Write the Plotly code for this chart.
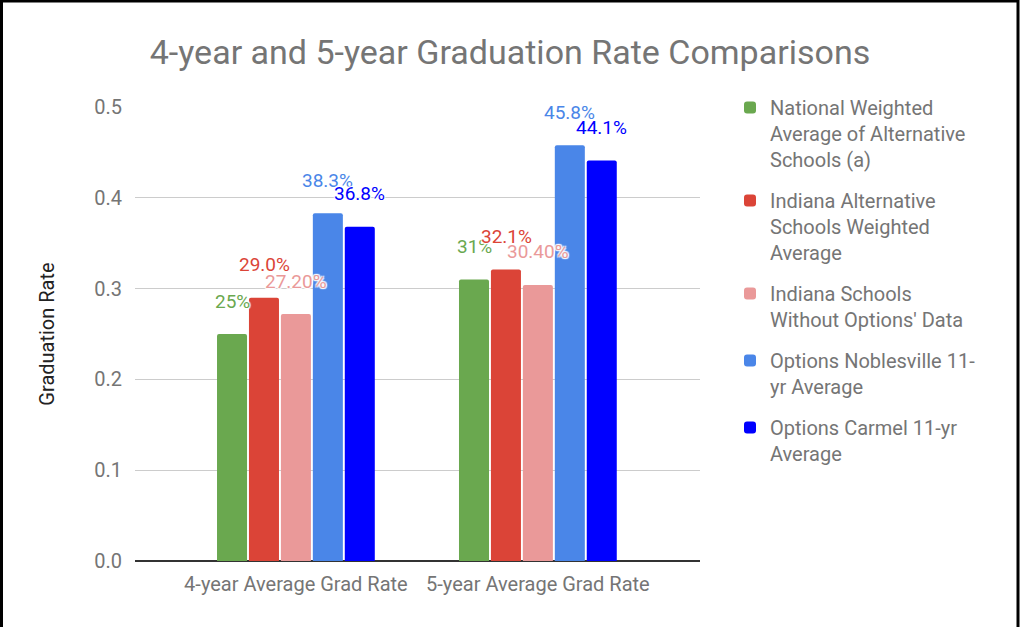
import plotly.graph_objects as go

# Chart data
categories = ["4-year Average Grad Rate", "5-year Average Grad Rate"]
series_names = [
    "National Weighted<br>Average of Alternative<br>Schools (a)",
    "Indiana Alternative<br>Schools Weighted<br>Average",
    "Indiana Schools<br>Without Options' Data",
    "Options Noblesville 11-<br>yr Average",
    "Options Carmel 11-yr<br>Average",
]
national = [0.25, 0.31]
indiana_alt = [0.29, 0.321]
indiana_no_options = [0.272, 0.304]
noblesville = [0.383, 0.458]
carmel = [0.368, 0.441]
value_labels = [
    ["25%", "31%"],
    ["29.0%", "32.1%"],
    ["27.20%", "30.40%"],
    ["38.3%", "45.8%"],
    ["36.8%", "44.1%"],
]
y_ticks = [0.0, 0.1, 0.2, 0.3, 0.4, 0.5]
y_tick_text = ["0.0", "0.1", "0.2", "0.3", "0.4", "0.5"]

series_values = [national, indiana_alt, indiana_no_options, noblesville, carmel]
colors = ["#6aa84f", "#db4437", "#ea9999", "#4a86e8", "#0000ff"]

FONT = "Roboto"
GREY = "#757575"
TXT = 20

W, H = 1020, 627
ML, MR, MT, MB = 135, 320, 107, 66
plot_w = W - ML - MR
plot_h = H - MT - MB

fig = go.Figure()
for i, (name, vals, col) in enumerate(zip(series_names, series_values, colors)):
    fig.add_trace(go.Bar(
        x=categories, y=vals, name=name,
        marker=dict(color=col, line=dict(width=0)),
        legendgroup=f"g{i}",
        hoverinfo="skip",
    ))

# value labels above each bar, with a white halo
n = len(series_values)
slot_px = 31.8
halo = "1px 1px 1px white, -1px -1px 1px white, 1px -1px 1px white, -1px 1px 1px white, 0 0 2px white"
for i, (vals, labels, col) in enumerate(zip(series_values, value_labels, colors)):
    for cat, v, lab in zip(categories, vals, labels):
        fig.add_annotation(
            x=cat, y=v, text=lab, showarrow=False,
            xshift=(i - (n - 1) / 2) * slot_px, yshift=33,
            font=dict(family=FONT, size=19, color=col, shadow=halo),
        )

# frame around the figure (left, top and right edges)
def px_x(p):
    return (p - ML) / plot_w

def px_y(p):
    return (H - MB - p) / plot_h

fig.add_shape(
    type="path", xref="paper", yref="paper",
    path=f"M {px_x(1.5)},{px_y(700)} L {px_x(1.5)},{px_y(1)} L {px_x(1018)},{px_y(1)} L {px_x(1018)},{px_y(700)}",
    line=dict(color="black", width=3),
)

fig.update_layout(
    width=W, height=H,
    margin=dict(l=ML, r=MR, t=MT, b=MB),
    paper_bgcolor="white", plot_bgcolor="white",
    barmode="group", bargap=0.34, bargroupgap=0.06, barcornerradius=2,
    font=dict(family=FONT, color=GREY),
    title=dict(
        text="4-year and 5-year Graduation Rate Comparisons",
        x=0.5, xanchor="center", y=1 - 52 / H, yanchor="middle",
        font=dict(family=FONT, size=34, color=GREY),
    ),
    xaxis=dict(
        range=[-0.665, 1.67], showgrid=False, zeroline=False,
        showline=False, ticks="", ticklabelstandoff=9,
        tickfont=dict(family=FONT, size=TXT, color=GREY),
    ),
    yaxis=dict(
        range=[0, 0.5], tickvals=y_ticks, ticktext=y_tick_text,
        showgrid=True, gridcolor="#cccccc", gridwidth=1,
        zeroline=True, zerolinecolor="#333333", zerolinewidth=1.5,
        showline=False, ticks="", ticklabelstandoff=12,
        tickfont=dict(family=FONT, size=TXT, color=GREY),
        title=dict(text="Graduation Rate", standoff=34,
                   font=dict(family=FONT, size=TXT, color="#222222")),
    ),
    legend=dict(
        x=px_x(730), xanchor="left", y=px_y(88), yanchor="top",
        valign="top", tracegroupgap=12, maxheight=520,
        font=dict(family=FONT, size=TXT, color=GREY),
        bgcolor="rgba(0,0,0,0)",
    ),
    showlegend=True,
)

fig.write_html("out.html")
